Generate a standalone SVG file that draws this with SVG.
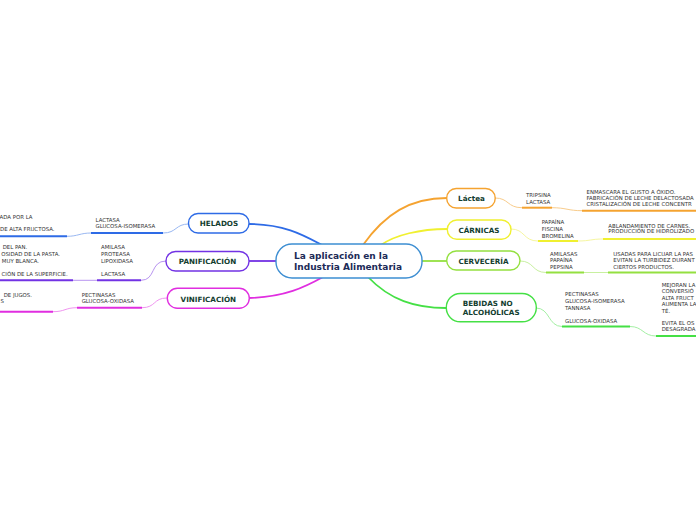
<svg xmlns="http://www.w3.org/2000/svg" width="696" height="520" viewBox="0 0 696 520">
<style>
.node{fill:#fff;stroke-width:1.4}
.lbl{font-family:"DejaVu Sans",Verdana,sans-serif;font-weight:bold;font-size:7.2px;fill:#123d2f;text-anchor:middle}
.ctr{font-family:"DejaVu Sans",Verdana,sans-serif;font-weight:bold;font-size:9px;fill:#1c2b57}
.sm{font-family:"DejaVu Sans",Verdana,sans-serif;font-size:5.4px;fill:#333}
.smr{font-family:"DejaVu Sans",Verdana,sans-serif;font-size:5.4px;fill:#333;text-anchor:end}
.main{fill:none;stroke-width:1.8}
.thin{fill:none;stroke-width:1}
.ul{fill:none;stroke-width:2}
</style>
<rect width="696" height="520" fill="#fff"/>
<g id="connectors">
  <path class="main" stroke="#2e6be6" d="M249,224 C285,224 305,236 322,245"/>
  <path class="main" stroke="#7232e4" d="M249,261 L276,261"/>
  <path class="main" stroke="#e02ee0" d="M249,298 C285,297 305,287 323,277"/>
  <path class="main" stroke="#f5a330" d="M363,245 C385,214 410,198 447,198"/>
  <path class="main" stroke="#f0f030" d="M381,245 C395,235 420,229 447,229"/>
  <path class="main" stroke="#94e040" d="M421,261 L447,261"/>
  <path class="main" stroke="#45e045" d="M368,277 C390,300 415,308 446,308"/>
  <path class="thin" stroke="#9ab8f2" d="M189,224 C175,224 177,233 163,233"/>
  <path class="ul" stroke="#2e6be6" d="M163,233 L91,233"/>
  <path class="thin" stroke="#9ab8f2" d="M91,233 C80,233 78,236.3 67,236.3"/>
  <path class="ul" stroke="#2e6be6" d="M67,236.3 L0,236.3"/>
  <path class="thin" stroke="#b894f0" d="M166,261 C150,261 156,280.3 141,280.3"/>
  <path class="ul" stroke="#7232e4" d="M141,280.3 L97,280.3"/>
  <path class="thin" stroke="#b894f0" d="M97,280.3 L73,280.3"/>
  <path class="ul" stroke="#7232e4" d="M73,280.3 L0,280.3"/>
  <path class="thin" stroke="#f094f0" d="M167,298 C153,298 156,307.7 142,307.7"/>
  <path class="ul" stroke="#e02ee0" d="M142,307.7 L77,307.7"/>
  <path class="thin" stroke="#f094f0" d="M77,307.7 C65,307.7 65,311.7 53,311.7"/>
  <path class="ul" stroke="#e02ee0" d="M53,311.7 L0,311.7"/>
  <path class="thin" stroke="#f8cc8c" d="M495,198 C509,198 507,207.7 522,207.7"/>
  <path class="ul" stroke="#f5a330" d="M522,207.7 L552,207.7"/>
  <path class="thin" stroke="#f8cc8c" d="M552,207.7 C566,207.7 568,210.7 582,210.7"/>
  <path class="ul" stroke="#f5a330" d="M582,210.7 L696,210.7"/>
  <path class="thin" stroke="#f6f6a0" d="M511,229 C525,229 523,241 538,241"/>
  <path class="ul" stroke="#f0f030" d="M538,241 L578,241"/>
  <path class="thin" stroke="#f6f6a0" d="M578,241 C590,241 591,239 603,239"/>
  <path class="ul" stroke="#f0f030" d="M603,239 L696,239"/>
  <path class="thin" stroke="#c8f0a0" d="M520,261 C534,261 532,272.5 546,272.5"/>
  <path class="ul" stroke="#94e040" d="M546,272.5 L584,272.5"/>
  <path class="thin" stroke="#c8f0a0" d="M584,272.5 L608,272.5"/>
  <path class="ul" stroke="#94e040" d="M608,272.5 L696,272.5"/>
  <path class="thin" stroke="#a4f0a4" d="M536,308 C550,308 548,326.5 562,326.5"/>
  <path class="ul" stroke="#45e045" d="M562,326.5 L630,326.5"/>
  <path class="thin" stroke="#a4f0a4" d="M630,326.5 C643,326.5 643,336 656,336"/>
  <path class="ul" stroke="#45e045" d="M656,336 L696,336"/>
</g>
<g id="center">
  <rect class="node" x="276" y="244" width="146" height="34" rx="16" stroke="#3d8ed2"/>
  <text class="ctr" x="294" y="259">La aplicación en la</text>
  <text class="ctr" x="294" y="270">Industria Alimentaria</text>
</g>
<g id="helados">
  <rect class="node" x="188.5" y="213.5" width="60.5" height="19.5" rx="9.5" stroke="#2e6be6"/>
  <text class="lbl" x="219" y="226">HELADOS</text>
  <text class="sm" x="95.5" y="221.7">LACTASA</text>
  <text class="sm" x="95.5" y="227.7">GLUCOSA-ISOMERASA</text>
  <text class="smr" x="32.5" y="219">ADA POR LA</text>
  <text class="smr" x="54.5" y="231.3">DE ALTA FRUCTOSA.</text>
</g>
<g id="panificacion">
  <rect class="node" x="166" y="251.5" width="83" height="19.5" rx="9.5" stroke="#7232e4"/>
  <text class="lbl" x="207.5" y="264.2">PANIFICACIÓN</text>
  <text class="sm" x="101" y="248.7">AMILASA</text>
  <text class="sm" x="101" y="255.7">PROTEASA</text>
  <text class="sm" x="101" y="262.7">LIPOXIDASA</text>
  <text class="sm" x="101" y="275.7">LACTASA</text>
  <text class="smr" x="27.3" y="248.7">DEL PAN.</text>
  <text class="smr" x="60" y="255.7">OSIDAD DE LA PASTA.</text>
  <text class="smr" x="39" y="262.7">MUY BLANCA.</text>
  <text class="smr" x="67.7" y="275.7">CIÓN DE LA SUPERFICIE.</text>
</g>
<g id="vinificacion">
  <rect class="node" x="167.3" y="288.3" width="82" height="20" rx="10" stroke="#e02ee0"/>
  <text class="lbl" x="208.3" y="301.6">VINIFICACIÓN</text>
  <text class="sm" x="81.7" y="297">PECTINASAS</text>
  <text class="sm" x="81.7" y="303">GLUCOSA-OXIDASA</text>
  <text class="smr" x="32" y="296.7">DE JUGOS.</text>
  <text class="smr" x="4" y="302.7">S</text>
</g>
<g id="lactea">
  <rect class="node" x="446.7" y="188.5" width="48.5" height="19.5" rx="9.5" stroke="#f5a330"/>
  <text class="lbl" x="471.5" y="201">Láctea</text>
  <text class="sm" x="526" y="196.7">TRIPSINA</text>
  <text class="sm" x="526" y="203.7">LACTASA</text>
  <text class="sm" x="586.5" y="193.7">ENMASCARA EL GUSTO A ÓXIDO.</text>
  <text class="sm" x="586.5" y="199.9">FABRICACIÓN DE LECHE DELACTOSADA</text>
  <text class="sm" x="586.5" y="206.1">CRISTALIZACIÓN DE LECHE CONCENTR</text>
</g>
<g id="carnicas">
  <rect class="node" x="447.3" y="220" width="63.7" height="19.3" rx="9.5" stroke="#f0f030"/>
  <text class="lbl" x="479" y="232.6">CÁRNICAS</text>
  <text class="sm" x="541.7" y="223.7">PAPAÍNA</text>
  <text class="sm" x="541.7" y="231">FISCINA</text>
  <text class="sm" x="541.7" y="237.7">BROMELINA</text>
  <text class="sm" x="608.3" y="227.7">ABLANDAMIENTO DE CARNES.</text>
  <text class="sm" x="608.3" y="233.2">PRODUCCIÓN DE HIDROLIZADO</text>
</g>
<g id="cerveceria">
  <rect class="node" x="446.7" y="251" width="73.3" height="19" rx="9.5" stroke="#94e040"/>
  <text class="lbl" x="483.5" y="263.7">CERVECERÍA</text>
  <text class="sm" x="550" y="255.5">AMILASAS</text>
  <text class="sm" x="550" y="262">PAPAÍNA</text>
  <text class="sm" x="550" y="268.5">PEPSINA</text>
  <text class="sm" x="613.3" y="255.5">USADAS PARA LICUAR LA PAS</text>
  <text class="sm" x="613.3" y="262">EVITAN LA TURBIDEZ DURANT</text>
  <text class="sm" x="613.3" y="268.5">CIERTOS PRODUCTOS.</text>
</g>
<g id="bebidas">
  <rect class="node" x="446.3" y="293.5" width="90" height="28.3" rx="14" stroke="#45e045"/>
  <text class="lbl" x="462.7" y="306" style="text-anchor:start">BEBIDAS NO</text>
  <text class="lbl" x="462.7" y="315.3" style="text-anchor:start">ALCOHÓLICAS</text>
  <text class="sm" x="565" y="296.3">PECTINASAS</text>
  <text class="sm" x="565" y="302.7">GLUCOSA-ISOMERASA</text>
  <text class="sm" x="565" y="309.7">TANNASA</text>
  <text class="sm" x="565" y="322.7">GLUCOSA-OXIDASA</text>
  <text class="sm" x="661.7" y="287">MEJORAN LA</text>
  <text class="sm" x="661.7" y="292.7">CONVERSIÓ</text>
  <text class="sm" x="661.7" y="299.5">ALTA FRUCT</text>
  <text class="sm" x="661.7" y="305.5">AUMENTA LA</text>
  <text class="sm" x="661.7" y="313.3">TÉ.</text>
  <text class="sm" x="661.7" y="325">EVITA EL OS</text>
  <text class="sm" x="661.7" y="330.9">DESAGRADA</text>
</g>
</svg>
